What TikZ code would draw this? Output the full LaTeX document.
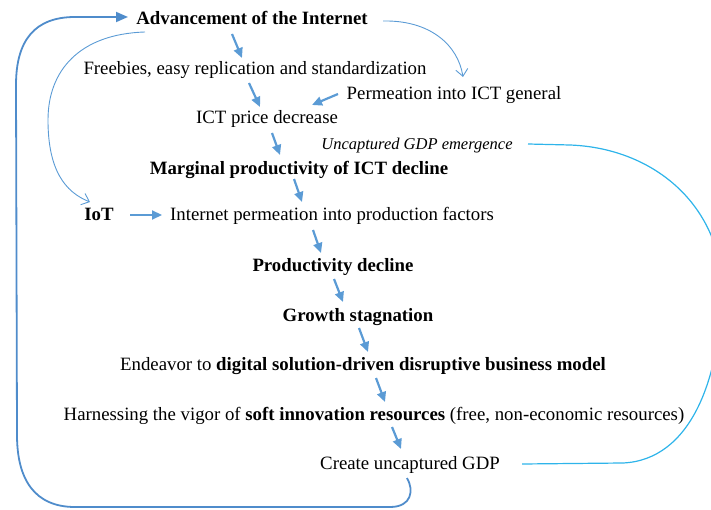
\documentclass[tikz,border=0pt]{standalone}
\usepackage{fontspec}
\setmainfont{Liberation Serif}
\usetikzlibrary{arrows.meta,calc}
\definecolor{arblue}{HTML}{5B9BD5}
\definecolor{loopblue}{HTML}{4F8CCB}
\definecolor{cyanl}{HTML}{2EB4EA}
\begin{document}
\begin{tikzpicture}[x=1pt,y=-1pt,
  lbl/.style={anchor=base, inner sep=0pt, font=\fontsize{18.8}{22}\selectfont},
  ilbl/.style={anchor=base, inner sep=0pt, font=\fontsize{16.5}{20}\selectfont\itshape},
  arr/.style={draw=arblue, line width=2.2pt, -{Triangle[length=10pt,width=9pt]}},
  thinarr/.style={draw=arblue, line width=0.9pt, -{Straight Barb[length=7pt,width=12pt]}},
  looparr/.style={draw=loopblue, line width=1.8pt, -{Triangle[length=12pt,width=10pt]}},
  cyanline/.style={draw=cyanl, line width=1.2pt}]
\useasboundingbox (0,0) rectangle (711,510);
\clip (0,0) rectangle (711,510);

\node[lbl] (adv) at (252,25) {\textbf{Advancement of the Internet}};
\node[lbl] (fre) at (255,75) {Freebies, easy replication and standardization};
\node[lbl] (per) at (454,100) {Permeation into ICT general};
\node[lbl] (ict) at (267,124) {ICT price decrease};
\node[ilbl] (unc) at (417,150) {Uncaptured GDP emergence};
\node[lbl] (mar) at (299,175) {\textbf{Marginal productivity of ICT decline}};
\node[lbl] (iot) at (99,221) {\textbf{IoT}};
\node[lbl] (int) at (332,221) {Internet permeation into production factors};
\node[lbl] (pro) at (333,272) {\textbf{Productivity decline}};
\node[lbl] (gro) at (358,321) {\textbf{Growth stagnation}};
\node[lbl] (end) at (363,370) {Endeavor to \textbf{digital solution-driven disruptive business model}};
\node[lbl] (har) at (374,420) {Harnessing the vigor of \textbf{soft innovation resources} (free, non-economic resources)};
\node[lbl] (cre) at (410,469) {Create uncaptured GDP};

% short arrows
\draw[arr] ($(adv.base)+(-20,9)$) -- ($(fre.base)+(-13,-17)$);
\draw[arr] ($(fre.base)+(-6,8)$) -- ($(ict.base)+(-7,-17)$);
\draw[arr] ($(per.base)+(-116,-6)$) -- ($(ict.base)+(45,-19)$);
\draw[arr] ($(ict.base)+(5,9)$) -- ($(mar.base)+(-19,-20)$);
\draw[arr] ($(mar.base)+(-5,4)$) -- ($(int.base)+(-30,-19)$);
\draw[arr] ($(iot.base)+(31,-6)$) -- ($(int.base)+(-170,-6)$);
\draw[arr] ($(int.base)+(-19,9)$) -- ($(pro.base)+(-12,-19)$);
\draw[arr] ($(pro.base)+(1,7)$) -- ($(gro.base)+(-15,-19)$);
\draw[arr] ($(gro.base)+(1,7)$) -- ($(end.base)+(5,-18)$);
\draw[arr] ($(end.base)+(13,8)$) -- ($(har.base)+(11,-18)$);
\draw[arr] ($(har.base)+(18,7)$) -- ($(cre.base)+(-9,-20)$);

% thin curved arrows
\draw[thinarr] ($(adv.base)+(131,-4)$) .. controls (430,20) and (458,45) .. ($(per.base)+(9,-23)$);
\draw[thinarr] ($(adv.base)+(-107,7)$) .. controls (80,34) and (48,70) .. (48,120)
  .. controls (48,170) and (65,192) .. ($(iot.base)+(-9,-19)$);

% big feedback loop
\draw[looparr] ($(cre.base)+(-3,9)$) .. controls (414,490) and (412,507) .. (390,507)
  -- (75,507) .. controls (35,507) and (17,480) .. (17,435)
  -- (16,85) .. controls (16,40) and (35,17) .. (75,17)
  -- ($(adv.base)+(-124,-8)$);

% cyan line
\draw[cyanline] ($(unc.base)+(111,-6)$) -- (570,145)
  .. controls (650,148) and (715,200) .. (722,280)
  .. controls (722,380) and (690,460) .. (623,463)
  -- ($(cre.base)+(112,-5)$);
\end{tikzpicture}
\end{document}
